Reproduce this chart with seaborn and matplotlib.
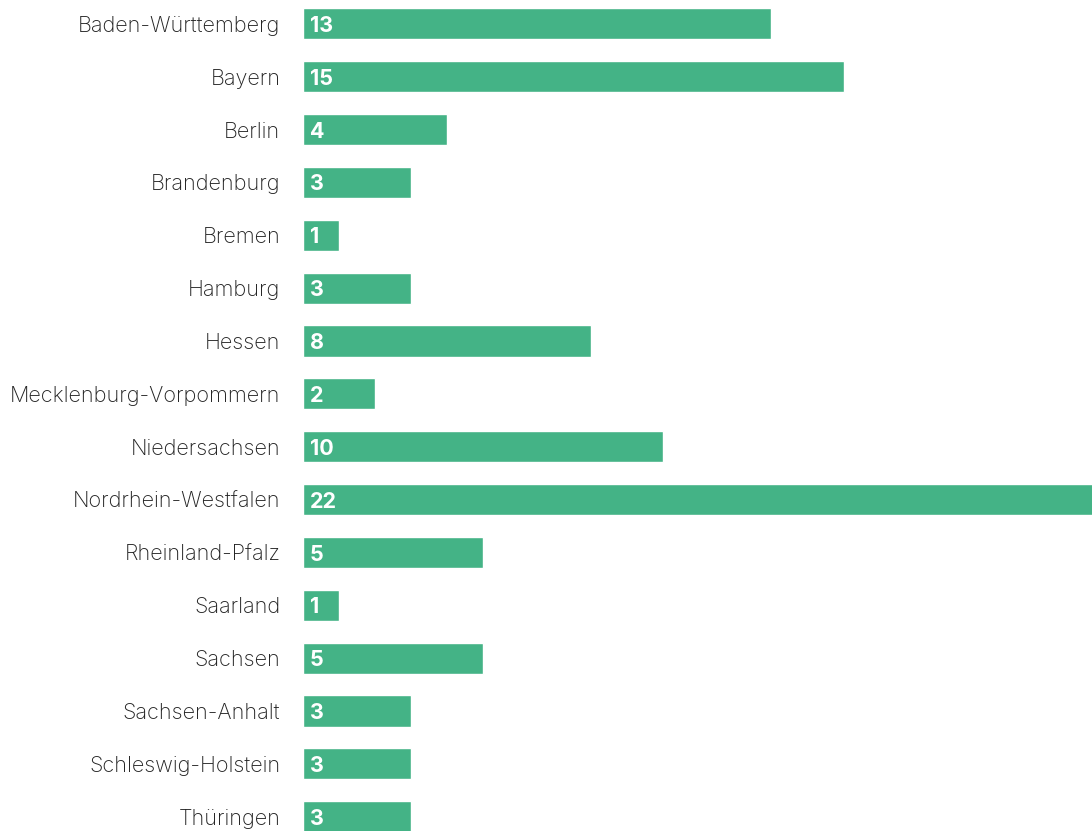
import matplotlib
matplotlib.use("Agg")
import matplotlib.pyplot as plt
import seaborn as sns
import pandas as pd

states = ["Baden-Württemberg", "Bayern", "Berlin", "Brandenburg", "Bremen", "Hamburg",
          "Hessen", "Mecklenburg-Vorpommern", "Niedersachsen", "Nordrhein-Westfalen",
          "Rheinland-Pfalz", "Saarland", "Sachsen", "Sachsen-Anhalt",
          "Schleswig-Holstein", "Thüringen"]
values = [13, 15, 4, 3, 1, 3, 8, 2, 10, 22, 5, 1, 5, 3, 3, 3]

df = pd.DataFrame({"state": states, "value": values})

sns.set_theme(style="white")
plt.rcParams["font.family"] = ["Inter", "DejaVu Sans"]

fig = plt.figure(figsize=(10.92, 8.31), dpi=100)
ax = fig.add_axes([302.5 / 1092, 0, 1 - 302.5 / 1092, 1])

sns.barplot(data=df, x="value", y="state", orient="h", color="#44b386",
            saturation=1, width=0.59, ax=ax)

ax.set_xlim(0, 21.89)
ax.set_ylim(15.27, -0.45)
ax.set_xlabel("")
ax.set_ylabel("")
ax.set_xticks([])
ax.tick_params(axis="y", length=0, pad=16, labelsize=15.6, labelcolor="#222222")
for lbl in ax.get_yticklabels():
    lbl.set_fontweight("light")
for s in ax.spines.values():
    s.set_visible(False)

for i, v in enumerate(values):
    ax.text(0.2, i + 0.04, str(v), color="white", fontsize=15.5, fontweight="bold",
            va="center", ha="left")

fig.savefig("out.png", dpi=100)
